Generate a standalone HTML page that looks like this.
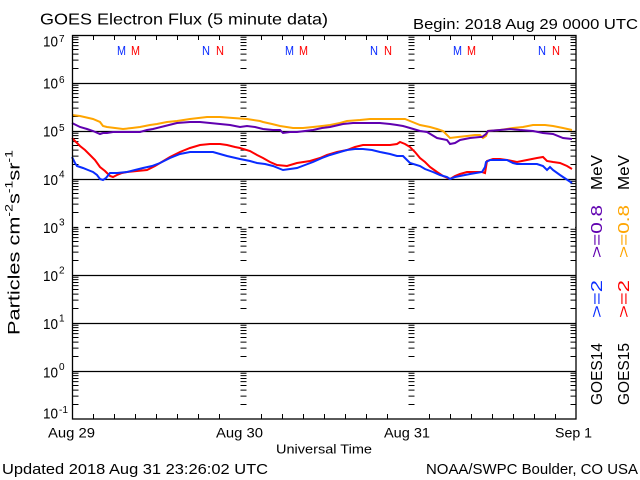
<!DOCTYPE html>
<html><head><meta charset="utf-8"><style>
html,body{margin:0;padding:0;background:#fff;}
svg{display:block;}
text{font-family:"Liberation Sans",sans-serif;}
</style></head><body>
<svg width="640" height="480" viewBox="0 0 640 480" xmlns="http://www.w3.org/2000/svg">
<defs>
<path id="mt" d="M0 -14.45h6M0 -22.9h6M0 -28.9h6M0 -33.55h6M0 -37.35h6M0 -40.56h6M0 -43.35h6M0 -45.8h6" stroke="#000" stroke-width="1" fill="none"/>
<g id="col">
<use href="#mt" y="419"/><use href="#mt" y="371"/><use href="#mt" y="323"/><use href="#mt" y="275"/>
<use href="#mt" y="227"/><use href="#mt" y="179"/><use href="#mt" y="131"/><use href="#mt" y="83"/>
</g>
</defs>
<rect width="640" height="480" fill="#fff"/>

<!-- grid lines -->
<g stroke="#000" stroke-width="1.3" fill="none">
<path d="M72 83.5H576M72 131.5H576M72 179.5H576M72 275.5H576M72 323.5H576M72 371.5H576"/>
<path d="M73.3 227.5H576" stroke-dasharray="5 6.67"/>
</g>

<!-- minor ticks -->
<use href="#col" x="72.5"/>
<use href="#col" x="240.5"/>
<use href="#col" x="408.5"/>
<use href="#col" x="570.5"/>

<!-- time ticks -->
<g stroke="#000" stroke-width="1" fill="none">
<path d="M93.5 35v5M114.5 35v5M135.5 35v5M156.5 35v5M177.5 35v5M198.5 35v5M219.5 35v5M261.5 35v5M282.5 35v5M303.5 35v5M324.5 35v5M345.5 35v5M366.5 35v5M387.5 35v5M429.5 35v5M450.5 35v5M471.5 35v5M492.5 35v5M513.5 35v5M534.5 35v5M555.5 35v5"/>
<path d="M93.5 419v-5M114.5 419v-5M135.5 419v-5M156.5 419v-5M177.5 419v-5M198.5 419v-5M219.5 419v-5M261.5 419v-5M282.5 419v-5M303.5 419v-5M324.5 419v-5M345.5 419v-5M366.5 419v-5M387.5 419v-5M429.5 419v-5M450.5 419v-5M471.5 419v-5M492.5 419v-5M513.5 419v-5M534.5 419v-5M555.5 419v-5"/>
</g>

<!-- data -->
<g fill="none" stroke-width="2" stroke-linejoin="miter">
<polyline stroke="#ffa500" points="72,115 80,116 93,119 100,122 103,126 107,127 115,128 123,129 132,128 140,127 150,125 157,124 167,122 177,121 190,119 207,117 220,117 233,118 247,119 260,121 263,122 272,124 280,126 293,128 303,128 313,127 322,126 330,125 340,123 347,121 360,120 370,119 385,119 397,119 405,119 410,121 420,125 430,127 437,129 443,131 445,133 450,138 458,137 467,136 475,135 480,135 483,138 486,136 488,131 500,130 513,128 523,127 533,125 545,125 553,126 563,128 572,130"/>
<polyline stroke="#6000b0" points="72,123 76,125 80,127 87,129 93,131 100,134 103,133 107,133 113,132 120,132 127,132 140,132 147,130 153,129 165,126 177,123 190,122 200,122 210,123 220,124 230,125 240,127 247,126 255,127 263,129 273,130 280,130 283,133 290,132 297,132 305,131 313,130 322,128 330,127 343,124 353,123 365,123 380,123 390,124 397,125 403,126 410,128 420,131 427,132 437,138 447,140 450,144 455,143 460,140 470,138 480,137 482,137 486,134 488,131 500,130 510,129 520,130 533,131 543,133 553,134 563,138 572,139"/>
<polyline stroke="#ff0000" points="72,138 76,142 80,146 85,150 90,155 95,160 100,167 105,171 107,173 110,176 113,177 117,175 122,173 127,172 137,171 147,170 155,166 160,163 170,157 180,152 190,148 200,145 210,144 220,144 227,145 235,147 240,148 250,151 257,155 263,158 270,162 277,165 287,166 297,163 310,161 320,158 327,155 337,152 347,150 355,147 363,145 372,145 380,145 390,145 397,144 400,142 405,144 410,147 415,152 420,158 425,162 430,167 437,172 443,176 450,179 455,176 460,174 467,172 475,172 482,172 485,173 487,161 493,159 500,159 507,160 517,162 527,160 537,158 543,157 547,161 553,162 560,163 567,166 572,169"/>
<polyline stroke="#0a2cff" points="72,157 75,163 77,166 83,168 88,170 93,172 97,175 100,179 103,180 106,178 110,173 117,173 127,172 135,170 143,168 152,166 160,163 170,158 180,154 190,152 200,152 213,152 220,154 227,156 240,159 250,161 257,163 265,164 273,166 278,168 283,170 290,169 297,168 305,165 313,162 322,158 330,155 340,152 347,150 355,149 363,149 372,150 380,152 390,154 397,156 403,156 407,160 410,163 420,166 425,169 433,172 440,175 447,177 450,179 455,177 460,176 470,174 482,172 485,167 486,162 490,160 500,160 507,160 513,163 517,164 527,164 537,164 543,166 547,170 550,167 553,170 560,175 566,179 572,183"/>
</g>

<!-- frame -->
<rect x="72.5" y="35.5" width="503.5" height="383.5" fill="none" stroke="#000" stroke-width="1.3"/>

<!-- M/N markers -->
<g font-size="13">
<text x="117" y="55" fill="#0a2cff" textLength="9" lengthAdjust="spacingAndGlyphs">M</text>
<text x="131" y="55" fill="#ff0000" textLength="9" lengthAdjust="spacingAndGlyphs">M</text>
<text x="202" y="55" fill="#0a2cff" textLength="8" lengthAdjust="spacingAndGlyphs">N</text>
<text x="216" y="55" fill="#ff0000" textLength="8" lengthAdjust="spacingAndGlyphs">N</text>
<text x="285" y="55" fill="#0a2cff" textLength="9" lengthAdjust="spacingAndGlyphs">M</text>
<text x="299" y="55" fill="#ff0000" textLength="9" lengthAdjust="spacingAndGlyphs">M</text>
<text x="370" y="55" fill="#0a2cff" textLength="8" lengthAdjust="spacingAndGlyphs">N</text>
<text x="384" y="55" fill="#ff0000" textLength="8" lengthAdjust="spacingAndGlyphs">N</text>
<text x="453" y="55" fill="#0a2cff" textLength="9" lengthAdjust="spacingAndGlyphs">M</text>
<text x="467" y="55" fill="#ff0000" textLength="9" lengthAdjust="spacingAndGlyphs">M</text>
<text x="538" y="55" fill="#0a2cff" textLength="8" lengthAdjust="spacingAndGlyphs">N</text>
<text x="552" y="55" fill="#ff0000" textLength="8" lengthAdjust="spacingAndGlyphs">N</text>
</g>

<!-- titles -->
<text x="40" y="24.5" font-size="16" textLength="288" lengthAdjust="spacingAndGlyphs">GOES Electron Flux (5 minute data)</text>
<text x="413" y="29" font-size="14.5" textLength="225" lengthAdjust="spacingAndGlyphs">Begin: 2018 Aug 29 0000 UTC</text>

<!-- y labels -->
<g font-size="15">
<text x="43" y="46.5" textLength="15" lengthAdjust="spacingAndGlyphs">10</text><text x="59" y="42" font-size="10">7</text>
<text x="43" y="88.5" textLength="15" lengthAdjust="spacingAndGlyphs">10</text><text x="59" y="83" font-size="10">6</text>
<text x="43" y="136.5" textLength="15" lengthAdjust="spacingAndGlyphs">10</text><text x="59" y="131" font-size="10">5</text>
<text x="43" y="185" textLength="15" lengthAdjust="spacingAndGlyphs">10</text><text x="59" y="177.5" font-size="10">4</text>
<text x="43" y="233" textLength="15" lengthAdjust="spacingAndGlyphs">10</text><text x="59" y="225.5" font-size="10">3</text>
<text x="43" y="281" textLength="15" lengthAdjust="spacingAndGlyphs">10</text><text x="59" y="273.5" font-size="10">2</text>
<text x="43" y="329" textLength="15" lengthAdjust="spacingAndGlyphs">10</text><text x="59" y="321.5" font-size="10">1</text>
<text x="43" y="377.5" textLength="15" lengthAdjust="spacingAndGlyphs">10</text><text x="59" y="370" font-size="10">0</text>
<text x="43" y="418.5" textLength="15" lengthAdjust="spacingAndGlyphs">10</text><text x="59" y="413" font-size="10" textLength="9" lengthAdjust="spacingAndGlyphs">-1</text>
</g>

<!-- y axis title -->
<text transform="translate(19.5,335) rotate(-90)" font-size="17" textLength="185" lengthAdjust="spacingAndGlyphs">Particles cm<tspan dy="-7" font-size="11">-2</tspan><tspan dy="7">s</tspan><tspan dy="-7" font-size="11">-1</tspan><tspan dy="7">sr</tspan><tspan dy="-7" font-size="11">-1</tspan></text>

<!-- x labels -->
<g font-size="14">
<text x="48" y="437.5" textLength="47" lengthAdjust="spacingAndGlyphs">Aug 29</text>
<text x="216" y="437.5" textLength="47" lengthAdjust="spacingAndGlyphs">Aug 30</text>
<text x="384" y="437.5" textLength="46" lengthAdjust="spacingAndGlyphs">Aug 31</text>
<text x="555" y="437.5" textLength="37" lengthAdjust="spacingAndGlyphs">Sep 1</text>
</g>
<text x="276" y="453.5" font-size="13" textLength="96" lengthAdjust="spacingAndGlyphs">Universal Time</text>
<text x="2" y="474" font-size="15" textLength="266" lengthAdjust="spacingAndGlyphs">Updated 2018 Aug 31 23:26:02 UTC</text>
<text x="426" y="474" font-size="15" textLength="212" lengthAdjust="spacingAndGlyphs">NOAA/SWPC Boulder, CO USA</text>

<!-- right legend -->
<g font-size="16">
<text transform="translate(602,405) rotate(-90)" textLength="62" lengthAdjust="spacingAndGlyphs">GOES14</text>
<text transform="translate(602,318) rotate(-90)" fill="#0a2cff" textLength="38" lengthAdjust="spacingAndGlyphs">&gt;=2</text>
<text transform="translate(602,258) rotate(-90)" fill="#6000b0" textLength="53" lengthAdjust="spacingAndGlyphs">&gt;=0.8</text>
<text transform="translate(602,190) rotate(-90)" textLength="35" lengthAdjust="spacingAndGlyphs">MeV</text>
<text transform="translate(629,405) rotate(-90)" textLength="62" lengthAdjust="spacingAndGlyphs">GOES15</text>
<text transform="translate(629,318) rotate(-90)" fill="#ff0000" textLength="38" lengthAdjust="spacingAndGlyphs">&gt;=2</text>
<text transform="translate(629,258) rotate(-90)" fill="#ffa500" textLength="53" lengthAdjust="spacingAndGlyphs">&gt;=0.8</text>
<text transform="translate(629,190) rotate(-90)" textLength="35" lengthAdjust="spacingAndGlyphs">MeV</text>
</g>
</svg>
</body></html>
